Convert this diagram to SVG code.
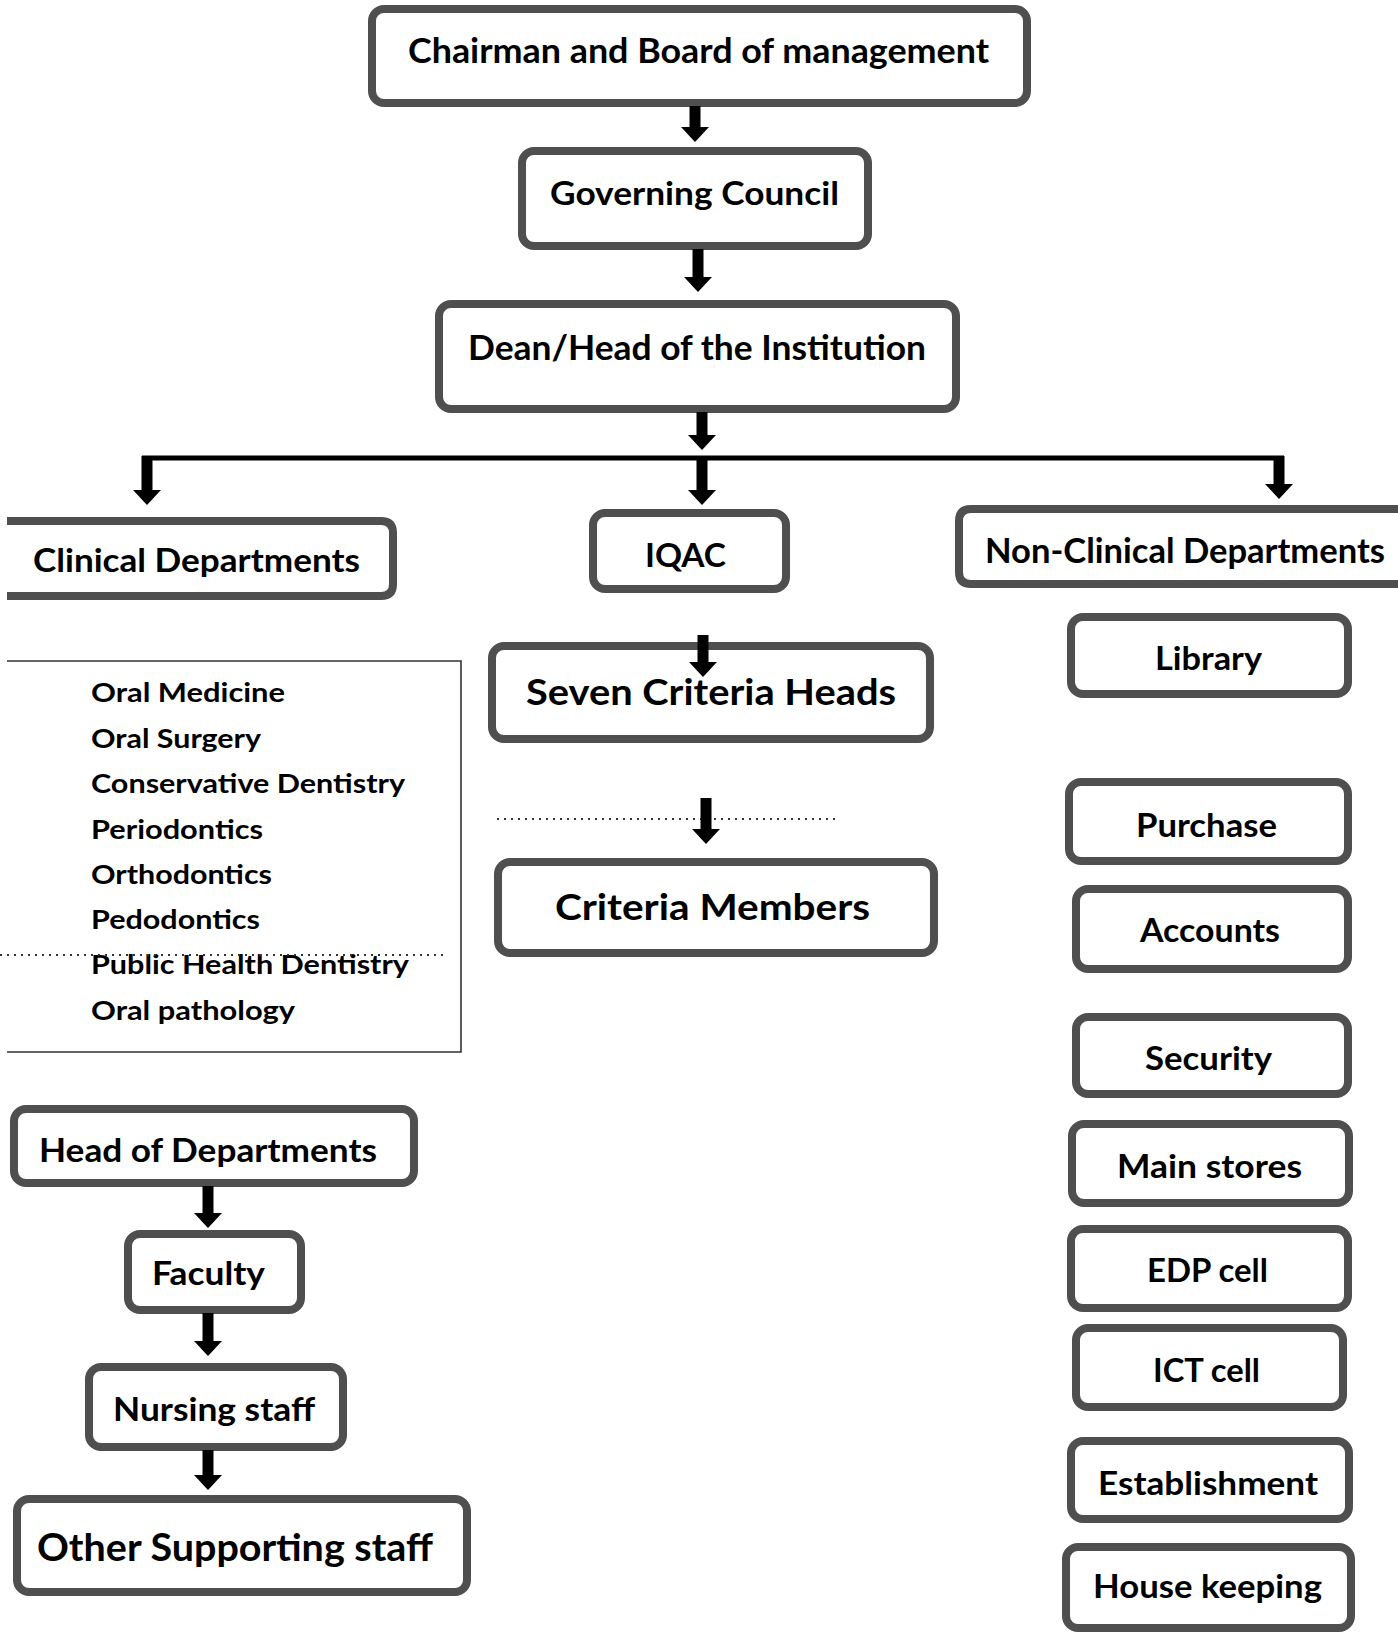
<svg xmlns="http://www.w3.org/2000/svg" width="1398" height="1632" viewBox="0 0 1398 1632">
<defs>
<style>
.box{fill:#fff;stroke:#4f4f4f;stroke-width:8}
.open{fill:#fff;stroke:#4f4f4f;stroke-width:8;stroke-linejoin:round}
.t{font-family:Lato,"Liberation Sans",sans-serif;font-weight:700;fill:#000}
.sh{stroke:#000;stroke-width:11;fill:none}
.dot{stroke:#333;stroke-width:2;stroke-dasharray:2 5;fill:none}
.thin{stroke:#333;stroke-width:1.6;fill:none}
</style>
<marker id="ah" markerUnits="userSpaceOnUse" viewBox="0 -14 16 28" markerWidth="16" markerHeight="28" refX="0" refY="0" orient="auto">
<path d="M0,-14 L15,0 L0,14 Z" fill="#000"/>
</marker>
</defs>
<rect width="1398" height="1632" fill="#fff"/>

<g id="chairman">
<rect class="box" x="372" y="9" width="655" height="94" rx="12"/>
<text class="t" x="408" y="63" font-size="35" textLength="581" lengthAdjust="spacingAndGlyphs">Chairman and Board of management</text>
</g>
<g id="governing-council">
<rect class="box" x="522" y="151" width="346" height="95" rx="12"/>
<text class="t" x="550" y="205" font-size="32" textLength="289" lengthAdjust="spacingAndGlyphs">Governing Council</text>
</g>
<g id="dean">
<rect class="box" x="439" y="304" width="517" height="105" rx="12"/>
<text class="t" x="468" y="360" font-size="35" textLength="458" lengthAdjust="spacingAndGlyphs">Dean/Head of the Institution</text>
</g>
<g id="clinical-departments">
<path class="open" d="M7,521 H381 Q393,521 393,533 V584 Q393,596 381,596 H7"/>
<text class="t" x="33" y="572" font-size="32" textLength="327" lengthAdjust="spacingAndGlyphs">Clinical Departments</text>
</g>
<g id="iqac">
<rect class="box" x="593" y="513" width="193" height="76" rx="12"/>
<text class="t" x="645" y="567" font-size="33" textLength="81" lengthAdjust="spacingAndGlyphs">IQAC</text>
</g>
<g id="non-clinical-departments">
<path class="open" d="M1404,509 H971 Q959,509 959,521 V572 Q959,584 971,584 H1404"/>
<text class="t" x="985" y="563" font-size="34" textLength="400" lengthAdjust="spacingAndGlyphs">Non-Clinical Departments</text>
</g>
<g id="clinical-list">
<path class="thin" d="M7,661 H461 V1052 H7"/>
<text class="t" x="91" y="702" font-size="27" textLength="194" lengthAdjust="spacingAndGlyphs">Oral Medicine</text>
<text class="t" x="91" y="748" font-size="27" textLength="170" lengthAdjust="spacingAndGlyphs">Oral Surgery</text>
<text class="t" x="91" y="793" font-size="27" textLength="314" lengthAdjust="spacingAndGlyphs">Conservative Dentistry</text>
<text class="t" x="91" y="839" font-size="27" textLength="172" lengthAdjust="spacingAndGlyphs">Periodontics</text>
<text class="t" x="91" y="884" font-size="27" textLength="181" lengthAdjust="spacingAndGlyphs">Orthodontics</text>
<text class="t" x="91" y="929" font-size="27" textLength="169" lengthAdjust="spacingAndGlyphs">Pedodontics</text>
<text class="t" x="91" y="974" font-size="27" textLength="318" lengthAdjust="spacingAndGlyphs">Public Health Dentistry</text>
<text class="t" x="91" y="1020" font-size="27" textLength="204" lengthAdjust="spacingAndGlyphs">Oral pathology</text>
</g>
<g id="seven-criteria-heads">
<rect class="box" x="492" y="646" width="438" height="93" rx="12"/>
<text class="t" x="526" y="705" font-size="37" textLength="370" lengthAdjust="spacingAndGlyphs">Seven Criteria Heads</text>
</g>
<g id="criteria-members">
<rect class="box" x="498" y="862" width="436" height="91" rx="12"/>
<text class="t" x="555" y="920" font-size="36" textLength="315" lengthAdjust="spacingAndGlyphs">Criteria Members</text>
</g>

<g id="library">
<rect class="box" x="1071" y="617" width="277" height="77" rx="12"/>
<text class="t" x="1155" y="670" font-size="32" textLength="107" lengthAdjust="spacingAndGlyphs">Library</text>
</g>
<g id="purchase">
<rect class="box" x="1069" y="782" width="279" height="79" rx="12"/>
<text class="t" x="1136" y="837" font-size="32" textLength="141" lengthAdjust="spacingAndGlyphs">Purchase</text>
</g>
<g id="accounts">
<rect class="box" x="1076" y="889" width="272" height="80" rx="12"/>
<text class="t" x="1140" y="942" font-size="32" textLength="140" lengthAdjust="spacingAndGlyphs">Accounts</text>
</g>
<g id="security">
<rect class="box" x="1076" y="1017" width="272" height="77" rx="12"/>
<text class="t" x="1145" y="1070" font-size="32" textLength="127" lengthAdjust="spacingAndGlyphs">Security</text>
</g>
<g id="main-stores">
<rect class="box" x="1072" y="1124" width="277" height="79" rx="12"/>
<text class="t" x="1117" y="1178" font-size="32" textLength="185" lengthAdjust="spacingAndGlyphs">Main stores</text>
</g>
<g id="edp-cell">
<rect class="box" x="1071" y="1229" width="277" height="79" rx="12"/>
<text class="t" x="1147" y="1282" font-size="32" textLength="121" lengthAdjust="spacingAndGlyphs">EDP cell</text>
</g>
<g id="ict-cell">
<rect class="box" x="1076" y="1328" width="267" height="79" rx="12"/>
<text class="t" x="1153" y="1382" font-size="32" textLength="107" lengthAdjust="spacingAndGlyphs">ICT cell</text>
</g>
<g id="establishment">
<rect class="box" x="1071" y="1441" width="278" height="78" rx="12"/>
<text class="t" x="1098" y="1495" font-size="32" textLength="220" lengthAdjust="spacingAndGlyphs">Establishment</text>
</g>
<g id="house-keeping">
<rect class="box" x="1066" y="1547" width="285" height="81" rx="12"/>
<text class="t" x="1093" y="1598" font-size="32" textLength="229" lengthAdjust="spacingAndGlyphs">House keeping</text>
</g>

<g id="head-of-departments">
<rect class="box" x="14" y="1109" width="400" height="74" rx="12"/>
<text class="t" x="39" y="1162" font-size="33" textLength="338" lengthAdjust="spacingAndGlyphs">Head of Departments</text>
</g>
<g id="faculty">
<rect class="box" x="128" y="1234" width="173" height="76" rx="12"/>
<text class="t" x="152" y="1285" font-size="32" textLength="113" lengthAdjust="spacingAndGlyphs">Faculty</text>
</g>
<g id="nursing-staff">
<rect class="box" x="89" y="1367" width="254" height="80" rx="12"/>
<text class="t" x="113" y="1421" font-size="32" textLength="202" lengthAdjust="spacingAndGlyphs">Nursing staff</text>
</g>
<g id="other-supporting-staff">
<rect class="box" x="17" y="1499" width="450" height="93" rx="12"/>
<text class="t" x="37" y="1561" font-size="38" textLength="396" lengthAdjust="spacingAndGlyphs">Other Supporting staff</text>
</g>

<g id="connectors">
<line class="sh" x1="695" y1="106" x2="695" y2="127" marker-end="url(#ah)"/>
<line class="sh" x1="698" y1="249" x2="698" y2="277" marker-end="url(#ah)"/>
<line class="sh" x1="702" y1="412" x2="702" y2="435" marker-end="url(#ah)"/>
<line x1="142" y1="458" x2="1284" y2="458" stroke="#000" stroke-width="5"/>
<line class="sh" x1="147" y1="456" x2="147" y2="490" marker-end="url(#ah)"/>
<line class="sh" x1="702" y1="456" x2="702" y2="490" marker-end="url(#ah)"/>
<line class="sh" x1="1279" y1="456" x2="1279" y2="484" marker-end="url(#ah)"/>
<line class="sh" x1="703" y1="635" x2="703" y2="662" marker-end="url(#ah)"/>
<line class="dot" x1="497" y1="819" x2="836" y2="819"/>
<line class="sh" x1="706" y1="798" x2="706" y2="829" marker-end="url(#ah)"/>
<line class="dot" x1="0" y1="955" x2="447" y2="955"/>
<line class="sh" x1="208" y1="1186" x2="208" y2="1213" marker-end="url(#ah)"/>
<line class="sh" x1="208" y1="1313" x2="208" y2="1341" marker-end="url(#ah)"/>
<line class="sh" x1="208" y1="1450" x2="208" y2="1475" marker-end="url(#ah)"/>
</g>
</svg>
